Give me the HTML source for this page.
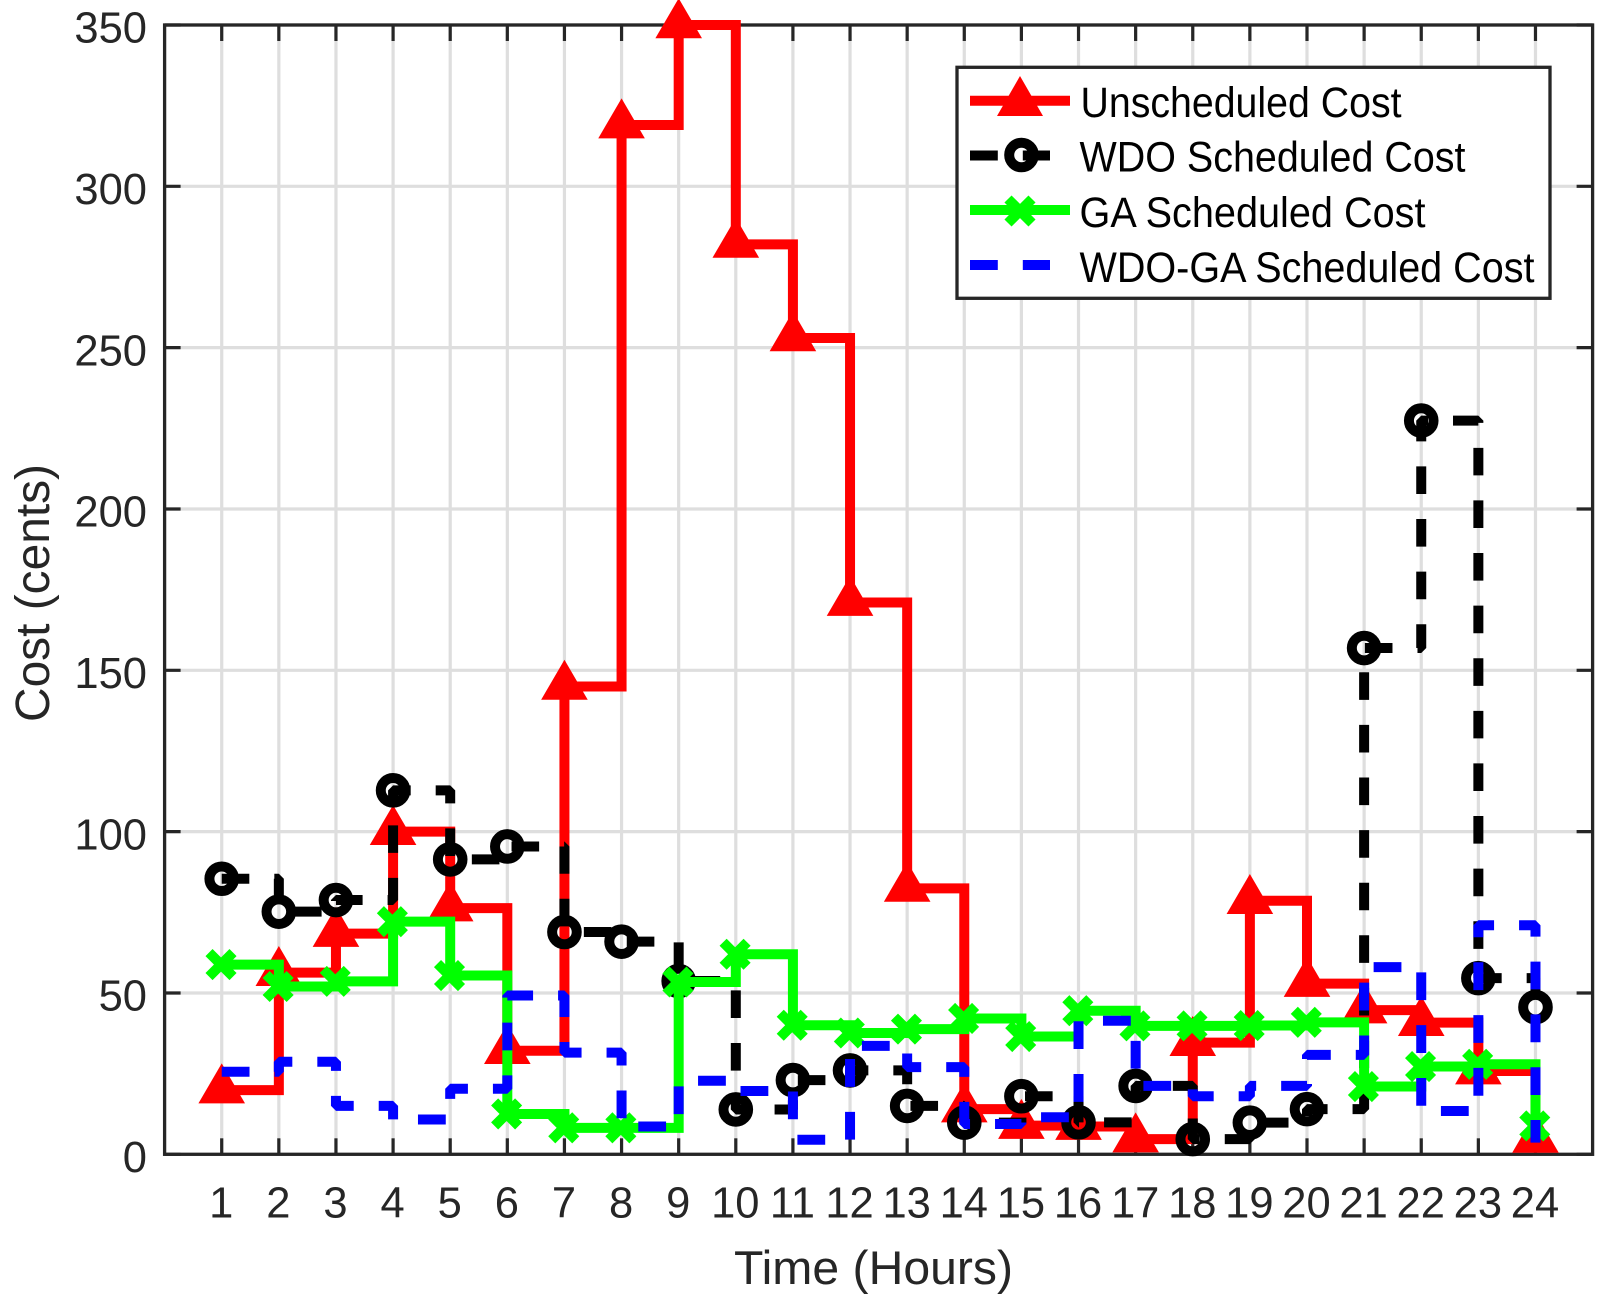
<!DOCTYPE html>
<html lang="en">
<head>
<meta charset="utf-8">
<title>Cost chart</title>
<style>
html,body{margin:0;padding:0;background:#fff;width:1611px;height:1310px;overflow:hidden}
svg{display:block;font-family:"Liberation Sans",Arial,sans-serif}
</style>
</head>
<body>
<svg id="chart" xmlns="http://www.w3.org/2000/svg" width="1611" height="1310" viewBox="0 0 1611 1310">
  <rect x="0" y="0" width="1611" height="1310" fill="#ffffff"/>
  <g id="grid"></g>
  <g id="axes"></g>
  <g id="series"></g>
  <text x="873.5" y="1284" text-anchor="middle" font-size="47" fill="#262626" textLength="279" lengthAdjust="spacingAndGlyphs">Time (Hours)</text>
  <text transform="translate(49,593) rotate(-90)" text-anchor="middle" font-size="48" fill="#262626" textLength="258" lengthAdjust="spacingAndGlyphs">Cost (cents)</text>
  <g>
    <rect x="957" y="67.3" width="593" height="231" fill="#ffffff" stroke="#262626" stroke-width="3.3"/>
    <g>
      <line x1="970" y1="100.7" x2="1070" y2="100.7" stroke="#ff0000" stroke-width="10"/>
      <polygon points="1020,76 1043,116 997,116" fill="#ff0000"/>
      <text x="1080.5" y="117" font-size="43" fill="#000" textLength="321" lengthAdjust="spacingAndGlyphs">Unscheduled Cost</text>
    </g>
    <g>
      <line x1="970" y1="155.5" x2="1050" y2="155.5" stroke="#000" stroke-width="10" stroke-dasharray="27.8 25"/>
      <circle cx="1021.5" cy="155" r="12.3" fill="none" stroke="#000" stroke-width="10"/>
      <text x="1079.5" y="171.7" font-size="43" fill="#000" textLength="386" lengthAdjust="spacingAndGlyphs">WDO Scheduled Cost</text>
    </g>
    <g>
      <line x1="970" y1="210" x2="1070" y2="210" stroke="#00ff00" stroke-width="10"/>
      <path d="M1008 199L1032 223M1032 199L1008 223" fill="none" stroke="#00ff00" stroke-width="10"/>
      <text x="1079.5" y="227" font-size="43" fill="#000" textLength="346" lengthAdjust="spacingAndGlyphs">GA Scheduled Cost</text>
    </g>
    <g>
      <line x1="970" y1="265" x2="1050" y2="265" stroke="#0000ff" stroke-width="10" stroke-dasharray="27.8 25"/>
      <text x="1079.5" y="282" font-size="43" fill="#000" textLength="455" lengthAdjust="spacingAndGlyphs">WDO-GA Scheduled Cost</text>
    </g>
  </g>
</svg>
<script>
const hours = [1,2,3,4,5,6,7,8,9,10,11,12,13,14,15,16,17,18,19,20,21,22,23,24];
const yTicks = [0,50,100,150,200,250,300,350];
const unscheduledCost = [19.9,56.3,68.4,100,76.3,32.1,145,319,350,282,253,171,82.4,14,8.9,8.6,4.7,34.6,78.6,52.9,44.7,40.8,25.8,4.6];
const wdoCost = [85.4,75.2,78.8,112.8,91.4,95.4,68.9,65.9,53.7,13.9,23,26,15,9.8,18,9.9,21.2,4.7,9.8,14,156.9,227.4,54.6,45.6];
const gaCost = [58.8,52,53.6,72.1,55.4,12.5,8.2,8.2,53.4,62,40,37.6,38.8,42.1,36.5,44.5,39.8,39.8,39.9,40.9,21,27.2,27.9,8.8];
const wdoGaCost = [25.6,28.7,15,10.8,20.3,49.2,31.5,8.6,22.8,19.6,4.5,33.6,27,9.4,11.5,41.4,21.2,18,21.2,30.8,58,13.4,71,3.6];

const NS = 'http://www.w3.org/2000/svg';
const X0 = 164.6, X1 = 1592.6, Y0 = 1154.3, Y1 = 25;
const sx = v => X0 + (v / 25) * (X1 - X0);
const sy = v => Y0 - (v / 350) * (Y0 - Y1);
const AX = '#262626', GRID = '#dedede';

function make(tag, parent, attrs) {
  const el = document.createElementNS(NS, tag);
  for (const k in attrs) el.setAttribute(k, attrs[k]);
  parent.appendChild(el);
  return el;
}

const gridG = document.getElementById('grid');
const axesG = document.getElementById('axes');
const seriesG = document.getElementById('series');

hours.forEach(h => {
  const x = sx(h);
  const g = make('line', gridG, {x1:x, x2:x, y1:Y1, y2:Y0, stroke:GRID, 'stroke-width':3.2});
  
  
});
yTicks.forEach(v => {
  const y = sy(v);
  const g = make('line', gridG, {x1:X0, x2:X1, y1:y, y2:y, stroke:GRID, 'stroke-width':3.2});
  
  
});

hours.forEach(h => {
  const x = sx(h);
  const bottom = make('line', axesG, {x1:x, x2:x, y1:Y0, y2:Y0-16, stroke:AX, 'stroke-width':3.2});
  
  
  const top = make('line', axesG, {x1:x, x2:x, y1:Y1, y2:Y1+16, stroke:AX, 'stroke-width':3.2});
  
  
  const t = make('text', axesG, {x:x - 0.5, y:1217.5, 'text-anchor':'middle', 'font-size':43.5, fill:AX});
  
  
  t.textContent = h;
});
yTicks.forEach(v => {
  const y = sy(v);
  const left = make('line', axesG, {x1:X0, x2:X0+16, y1:y, y2:y, stroke:AX, 'stroke-width':3.2});
  
  
  const right = make('line', axesG, {x1:X1, x2:X1-16, y1:y, y2:y, stroke:AX, 'stroke-width':3.2});
  
  
  const t = make('text', axesG, {x:147, y:y+17.7, 'text-anchor':'end', 'font-size':43.5, fill:AX});
  
  
  t.textContent = v;
});
const frame = make('rect', axesG, {x:X0, y:Y1, width:X1-X0, height:Y0-Y1, fill:'none', stroke:AX, 'stroke-width':3.3});



function stairs(xs, ys) {
  let d = 'M' + sx(xs[0]).toFixed(2) + ' ' + sy(ys[0]).toFixed(2);
  for (let i = 1; i < xs.length; i++) {
    d += 'H' + sx(xs[i]).toFixed(2) + 'V' + sy(ys[i]).toFixed(2);
  }
  return d;
}

// Red series
const redG = make('g', seriesG, {});


const redLine = make('path', redG, {d:stairs(hours, unscheduledCost), fill:'none', stroke:'#ff0000', 'stroke-width':10, 'stroke-linejoin':'miter'});


hours.forEach((h, i) => {
  const x = sx(h), y = sy(unscheduledCost[i]);
  const pts = x + ',' + (y - 26.7) + ' ' + (x + 23.3) + ',' + (y + 13.3) + ' ' + (x - 23.3) + ',' + (y + 13.3);
  const m = make('polygon', redG, {points:pts, fill:'#ff0000'});
  
  
});

// Black series
const blackG = make('g', seriesG, {});


const blackLine = make('path', blackG, {d:stairs(hours, wdoCost), fill:'none', stroke:'#000000', 'stroke-width':10, 'stroke-dasharray':'27.6 25', 'stroke-linejoin':'bevel'});


hours.forEach((h, i) => {
  const m = make('circle', blackG, {cx:sx(h), cy:sy(wdoCost[i]), r:12.3, fill:'none', stroke:'#000000', 'stroke-width':10});
  
  
});

// Green series
const greenG = make('g', seriesG, {});


const greenLine = make('path', greenG, {d:stairs(hours, gaCost), fill:'none', stroke:'#00ff00', 'stroke-width':10, 'stroke-linejoin':'miter'});


hours.forEach((h, i) => {
  const x = sx(h) - 0.7, y = sy(gaCost[i]), a = 12;
  const d = 'M' + (x - a) + ' ' + (y - a) + 'L' + (x + a) + ' ' + (y + a) + 'M' + (x + a) + ' ' + (y - a) + 'L' + (x - a) + ' ' + (y + a);
  const m = make('path', greenG, {d:d, fill:'none', stroke:'#00ff00', 'stroke-width':10});
  
  
});

// Blue series
const blueLine = make('path', seriesG, {d:stairs(hours, wdoGaCost), fill:'none', stroke:'#0000ff', 'stroke-width':10, 'stroke-dasharray':'27.8 25', 'stroke-linejoin':'bevel'});


</script>
</body>
</html>
